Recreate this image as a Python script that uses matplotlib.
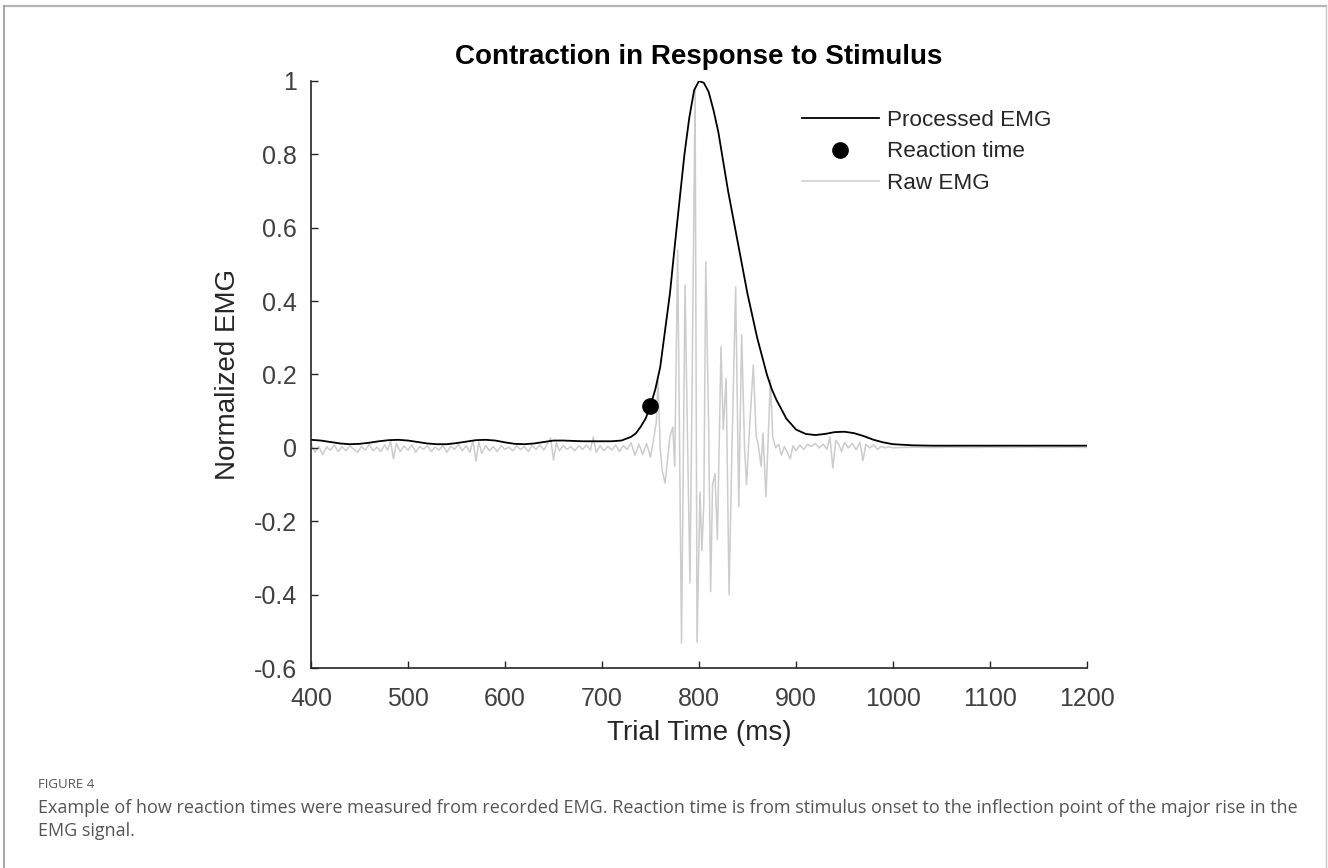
import matplotlib.pyplot as plt
from matplotlib.lines import Line2D

plt.rcParams['font.family'] = ['Liberation Sans', 'DejaVu Sans']

# processed (smoothed) EMG
proc_t = [400, 410, 420, 430, 440, 450, 460, 470, 480, 490, 500, 510, 520, 530, 540,
          550, 560, 570, 580, 590, 600, 610, 620, 630, 640, 650, 660, 670, 680, 690,
          700, 710, 720, 730, 735, 740, 745, 750, 755, 760, 765, 770, 775, 780, 785,
          790, 795, 800, 805, 810, 815, 820, 825, 830, 835, 840, 845, 850, 855, 860,
          865, 870, 875, 880, 890, 900, 910, 920, 930, 940, 950, 960, 970, 980, 990,
          1000, 1020, 1040, 1060, 1080, 1100, 1120, 1140, 1160, 1180, 1200]
proc_v = [0.022, 0.020, 0.016, 0.012, 0.010, 0.011, 0.014, 0.018, 0.021, 0.022, 0.020, 0.016, 0.012, 0.010, 0.010,
          0.013, 0.017, 0.021, 0.022, 0.020, 0.015, 0.011, 0.010, 0.012, 0.016, 0.020, 0.020, 0.019, 0.018, 0.018,
          0.018, 0.018, 0.020, 0.030, 0.040, 0.058, 0.080, 0.115, 0.160, 0.220, 0.320, 0.420, 0.550, 0.676, 0.800,
          0.900, 0.975, 1.000, 0.995, 0.970, 0.920, 0.860, 0.780, 0.700, 0.630, 0.560, 0.490, 0.420, 0.360, 0.300,
          0.250, 0.200, 0.160, 0.130, 0.080, 0.050, 0.038, 0.035, 0.038, 0.043, 0.044, 0.040, 0.032, 0.022, 0.015,
          0.010, 0.007, 0.006, 0.006, 0.006, 0.006, 0.006, 0.006, 0.006, 0.006, 0.006]

# raw EMG trace
raw_t = [400, 404, 408, 412, 416, 420, 424, 428, 432, 436, 440, 444, 448, 452, 456,
         460, 464, 468, 472, 476, 479, 482, 485, 488, 492, 496, 500, 504, 508, 512,
         516, 520, 524, 528, 532, 536, 540, 544, 548, 552, 556, 560, 564, 567, 570,
         573, 576, 580, 584, 588, 592, 596, 600, 604, 608, 612, 616, 620, 624, 628,
         632, 636, 640, 644, 647, 650, 653, 656, 660, 664, 668, 672, 676, 680, 684,
         688, 691, 694, 698, 702, 706, 710, 714, 718, 722, 726, 730, 734, 738, 742,
         746, 750, 753, 756, 757.7, 760, 762, 765, 768, 770, 773, 775, 778, 782, 785.6,
         788, 790.7, 793, 796, 798, 801, 803, 805, 807, 810, 812, 814, 816.5, 819, 822.7,
         825, 828, 831, 834, 837.8, 841, 844, 847, 849, 852, 856, 859, 861, 864, 866,
         869, 871, 873.6, 876, 879, 882, 885, 888, 891, 894, 897, 900, 904, 908, 912,
         916, 920, 924, 928, 932, 935, 938, 941, 944, 947, 950, 954, 958, 962, 966,
         969, 972, 976, 980, 984, 988, 992, 996, 1000, 1020, 1040, 1060, 1080, 1100, 1120,
         1140, 1160, 1180, 1200]
raw_v = [0.012, -0.012, 0.004, -0.018, 0.002, -0.006, 0.008, -0.010, 0.003, -0.008, 0.006, -0.004, -0.012, 0.004, -0.006,
         0.010, -0.008, 0.002, -0.010, 0.008, -0.006, 0.018, -0.030, 0.012, -0.010, 0.005, -0.006, 0.008, -0.012, 0.004,
         -0.004, 0.006, -0.010, 0.002, -0.006, 0.006, -0.012, 0.004, -0.004, 0.010, -0.008, 0.006, -0.012, 0.020, -0.036,
         0.016, -0.015, 0.006, -0.008, 0.004, -0.010, 0.006, -0.004, 0.002, -0.008, 0.006, -0.005, 0.004, -0.010, 0.006,
         -0.004, 0.008, -0.006, 0.012, 0.027, -0.033, 0.014, -0.008, 0.006, -0.004, 0.004, -0.008, 0.006, -0.004, 0.008,
         -0.006, 0.030, -0.012, 0.006, -0.008, 0.004, -0.006, 0.008, -0.010, 0.006, -0.004, 0.014, -0.020, 0.010, -0.018,
         0.012, -0.025, 0.020, 0.070, 0.185, 0.000, -0.060, -0.096, -0.020, 0.030, 0.057, -0.050, 0.539, -0.532, 0.444,
         0.050, -0.368, 0.200, 0.975, -0.530, -0.120, -0.280, -0.150, 0.507, 0.050, -0.392, -0.100, -0.070, -0.250, 0.276,
         0.050, 0.190, -0.400, 0.000, 0.439, -0.160, 0.308, 0.000, -0.100, 0.050, 0.226, 0.030, 0.010, -0.050, 0.040,
         -0.133, 0.000, 0.185, 0.030, 0.000, 0.010, -0.020, 0.004, -0.012, -0.030, 0.006, -0.008, 0.008, -0.004, 0.010,
         0.004, 0.012, 0.000, 0.010, -0.004, 0.030, -0.055, 0.020, 0.010, -0.010, 0.015, 0.000, 0.012, -0.005, 0.015,
         -0.035, 0.010, 0.000, 0.008, -0.004, 0.004, 0.000, 0.003, 0.000, 0.002, 0.001, 0.002, 0.001, 0.002, 0.001,
         0.002, 0.001, 0.002, 0.001]

reaction_t = [750]
reaction_v = [0.115]

x_ticks = [400, 500, 600, 700, 800, 900, 1000, 1100, 1200]
y_ticks = [-0.6, -0.4, -0.2, 0, 0.2, 0.4, 0.6, 0.8, 1]
y_labels = ['-0.6', '-0.4', '-0.2', '0', '0.2', '0.4', '0.6', '0.8', '1']

fig = plt.figure(figsize=(13.28, 8.68), dpi=100)
ax = fig.add_axes([0.2342, 0.2304, 0.5843, 0.6763])

ax.plot(raw_t, raw_v, color='#cccccc', lw=1.1, zorder=1, label='Raw EMG')
ax.plot(proc_t, proc_v, color='black', lw=1.3, zorder=2, label='Processed EMG')
ax.plot(reaction_t, reaction_v, 'o', color='black', ms=11, zorder=3, label='Reaction time')

ax.set_xlim(400, 1200)
ax.set_ylim(-0.6, 1)
ax.set_xticks(x_ticks)
ax.set_yticks(y_ticks)
ax.set_yticklabels(y_labels)
for s in ['top', 'right']:
    ax.spines[s].set_visible(False)
for s in ['left', 'bottom']:
    ax.spines[s].set_color('#262626')
    ax.spines[s].set_linewidth(1.2)
ax.tick_params(direction='in', length=5, width=1, colors='#262626', labelcolor='#404040', labelsize=18)
ax.tick_params(axis='x', pad=14)
ax.tick_params(axis='y', pad=10)

fig.text(0.5264, 0.934, 'Contraction in Response to Stimulus', ha='center', va='center',
         fontsize=20, fontweight='bold', color='black')
fig.text(0.5264, 0.1555, 'Trial Time (ms)', ha='center', va='center', fontsize=20, color='#262626')
fig.text(0.1717, 0.5686, 'Normalized EMG', ha='center', va='center', rotation=90, fontsize=20, color='#262626')

handles, labels = ax.get_legend_handles_labels()
order = [1, 2, 0]
ax.legend([handles[i] for i in order], [labels[i] for i in order],
          loc='upper left', bbox_to_anchor=(0.633, 0.95), frameon=False, fontsize=16.2,
          handlelength=3.4, handletextpad=0.36, labelspacing=0.45, borderpad=0, borderaxespad=0,
          labelcolor='#262626')

# outer figure frame
fig.add_artist(Line2D([4 / 1328, 1326 / 1328], [1 - 6 / 868, 1 - 6 / 868], transform=fig.transFigure, color='#b5b5b5', lw=1.6))
fig.add_artist(Line2D([4 / 1328, 4 / 1328], [0, 1 - 6 / 868], transform=fig.transFigure, color='#9a9a9a', lw=1.2))
fig.add_artist(Line2D([1326 / 1328, 1326 / 1328], [0, 1 - 6 / 868], transform=fig.transFigure, color='#c8c8c8', lw=1.0))

# caption
cap_font = ['Open Sans', 'DejaVu Sans']
fig.text(38 / 1328, 1 - 785 / 868, 'FIGURE 4', ha='left', va='center', fontsize=9.5,
         family=cap_font, color='#555555')
fig.text(38 / 1328, 1 - 808 / 868,
         'Example of how reaction times were measured from recorded EMG. Reaction time is from stimulus onset to the inflection point of the major rise in the',
         ha='left', va='center', fontsize=13, family=cap_font, color='#555555')
fig.text(38 / 1328, 1 - 831 / 868, 'EMG signal.', ha='left', va='center', fontsize=13,
         family=cap_font, color='#555555')

fig.savefig('out.png', dpi=100)
